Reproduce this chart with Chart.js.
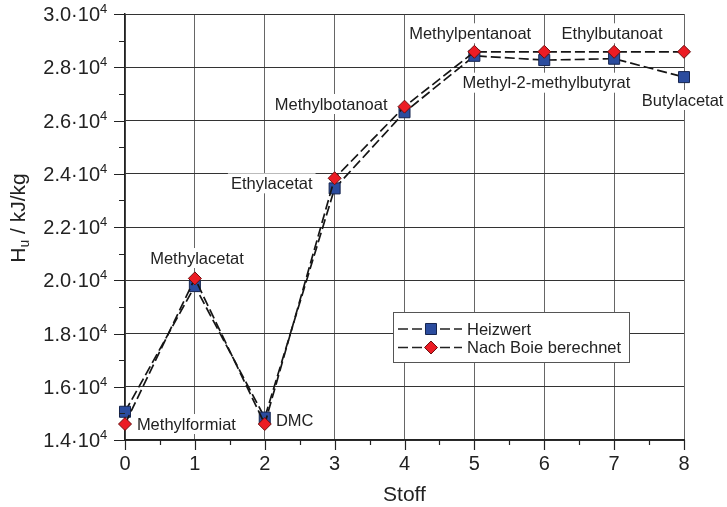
<!DOCTYPE html>
<html>
<head>
<meta charset="utf-8">
<script src="https://cdn.jsdelivr.net/npm/chart.js@4/dist/chart.umd.min.js"></script>
<style>
  html, body { margin: 0; padding: 0; background: #fff; }
  #wrap { width: 727px; height: 507px; position: relative; }
</style>
</head>
<body>
<div id="wrap"><canvas id="c"></canvas></div>
<script>
// --- data ---
const stoffIdx   = [0, 1, 2, 3, 4, 5, 6, 7, 8];
const heizwert   = [15060, 19780, 14840, 23450, 26310, 28430, 28270, 28320, 27630];
const boie       = [14600, 20070, 14600, 23830, 26520, 28580, 28580, 28580, 28580];
const seriesNames = ['Heizwert', 'Nach Boie berechnet'];
const yTickVals  = [14000, 16000, 18000, 20000, 22000, 24000, 26000, 28000, 30000];

// substance labels: [text, x, y, align]
const stoffLabels = [
  ['Methylformiat', 0.17, 14600, 'left'],
  ['Methylacetat', 1.03, 20835, 'center'],
  ['DMC', 2.16, 14725, 'left'],
  ['Ethylacetat', 2.10, 23640, 'center'],
  ['Methylbotanoat', 2.95, 26620, 'center'],
  ['Methylpentanoat', 4.94, 29275, 'center'],
  ['Ethylbutanoat', 6.97, 29275, 'center'],
  ['Methyl-2-methylbutyrat', 6.03, 27420, 'center'],
  ['Butylacetat', 7.98, 26770, 'center'],
];

const FONT = "'Liberation Sans', Arial, sans-serif";
const DASH = [10, 4];
const BLUE = '#2b4c9e', BLUE_EDGE = '#16254f';
const RED = '#ec1c24', RED_EDGE = '#6a0f0f';

const mkPts = (ys) => stoffIdx.map((x, i) => ({ x, y: ys[i] }));

// minor ticks, y tick labels with exponent, axis titles, legend
const axisDeco = {
  id: 'axisDeco',
  afterDraw(chart) {
    const { ctx, chartArea: a, scales: { x, y } } = chart;
    ctx.save();
    ctx.strokeStyle = '#222';
    ctx.lineWidth = 1.2;
    ctx.beginPath();
    for (let v = 14000; v <= 30000; v += 1000) {
      const py = Math.round(y.getPixelForValue(v)) + 0.5;
      const len = v % 2000 === 0 ? 11 : 6;
      ctx.moveTo(a.left - len, py); ctx.lineTo(a.left, py);
    }
    for (let v = 0; v <= 8; v += 0.5) {
      const px = Math.round(x.getPixelForValue(v)) + 0.5;
      const len = v % 1 === 0 ? 10 : 5;
      ctx.moveTo(px, a.bottom); ctx.lineTo(px, a.bottom + len);
    }
    ctx.stroke();

    // y tick labels: "3.0·10" + superscript 4
    ctx.fillStyle = '#222';
    ctx.textBaseline = 'alphabetic';
    yTickVals.forEach(v => {
      const py = y.getPixelForValue(v);
      ctx.font = '13px ' + FONT;
      ctx.textAlign = 'left';
      ctx.fillText('4', 100, py - 1);
      ctx.font = '20px ' + FONT;
      ctx.textAlign = 'right';
      ctx.fillText((v / 1e4).toFixed(1) + '·10', 100, py + 7);
    });

    // x title
    ctx.font = '21px ' + FONT;
    ctx.textAlign = 'center';
    ctx.textBaseline = 'middle';
    ctx.fillText('Stoff', x.getPixelForValue(4), 495);

    // y title with subscript
    ctx.translate(17, 218);
    ctx.rotate(-Math.PI / 2);
    ctx.textAlign = 'left';
    ctx.textBaseline = 'alphabetic';
    const h = 'H', sub = 'u', rest = ' / kJ/kg';
    ctx.font = '21px ' + FONT;
    const wH = ctx.measureText(h).width;
    ctx.font = '14px ' + FONT;
    const wS = ctx.measureText(sub).width;
    ctx.font = '21px ' + FONT;
    const wR = ctx.measureText(rest).width;
    let sx = -(wH + wS + wR) / 2;
    ctx.fillText(h, sx, 8); sx += wH;
    ctx.font = '14px ' + FONT;
    ctx.fillText(sub, sx, 12); sx += wS;
    ctx.font = '21px ' + FONT;
    ctx.fillText(rest, sx, 8);
    ctx.restore();

    // legend box
    ctx.save();
    const bx = 393, by = 312, bw = 236, bh = 50;
    ctx.fillStyle = '#fff';
    ctx.fillRect(bx, by, bw, bh);
    ctx.strokeStyle = '#555';
    ctx.lineWidth = 1;
    ctx.strokeRect(bx + 0.5, by + 0.5, bw, bh);
    chart.data.datasets.forEach((ds, i) => {
      const ry = by + 17 + i * 18.5;
      ctx.strokeStyle = '#222';
      ctx.lineWidth = 1.6;
      ctx.setLineDash(DASH);
      ctx.beginPath(); ctx.moveTo(398, ry); ctx.lineTo(462, ry); ctx.stroke();
      ctx.setLineDash([]);
      ctx.fillStyle = ds.pointBackgroundColor;
      ctx.strokeStyle = ds.pointBorderColor;
      ctx.lineWidth = 1;
      Chart.helpers.drawPoint(ctx, { pointStyle: ds.pointStyle, radius: ds.pointRadius, borderWidth: 1 }, 431, ry);
      ctx.fillStyle = '#222';
      ctx.font = '16.5px ' + FONT;
      ctx.textAlign = 'left';
      ctx.textBaseline = 'middle';
      ctx.fillText(ds.label, 467, ry + 1);
    });
    ctx.restore();
  }
};

// substance names on white backgrounds, under the lines
const stoffText = {
  id: 'stoffText',
  beforeDatasetsDraw(chart) {
    const { ctx, scales: { x, y } } = chart;
    ctx.save();
    ctx.font = '16.5px ' + FONT;
    ctx.textBaseline = 'middle';
    stoffLabels.forEach(([t, vx, vy, al]) => {
      const px = x.getPixelForValue(vx), py = y.getPixelForValue(vy);
      const w = ctx.measureText(t).width;
      const left = al === 'left' ? px : px - w / 2;
      ctx.fillStyle = '#fff';
      ctx.fillRect(left - 3, py - 10, w + 6, 20);
      ctx.fillStyle = '#222';
      ctx.textAlign = 'left';
      ctx.fillText(t, left, py + 1);
    });
    ctx.restore();
  }
};

new Chart(document.getElementById('c'), {
  type: 'line',
  data: {
    datasets: [
      {
        label: seriesNames[0], data: mkPts(heizwert), order: 1,
        borderColor: '#151515', borderWidth: 1.7, borderDash: DASH,
        pointStyle: 'rect', pointRadius: 7.8,
        pointBackgroundColor: BLUE, pointBorderColor: BLUE_EDGE, pointBorderWidth: 1,
        tension: 0, fill: false,
      },
      {
        label: seriesNames[1], data: mkPts(boie), order: 0,
        borderColor: '#151515', borderWidth: 1.7, borderDash: DASH,
        pointStyle: 'rectRot', pointRadius: 6.5,
        pointBackgroundColor: RED, pointBorderColor: RED_EDGE, pointBorderWidth: 1,
        tension: 0, fill: false,
      },
    ]
  },
  options: {
    responsive: true,
    maintainAspectRatio: false,
    animation: false,
    clip: false,
    layout: { padding: { top: 14, right: 43, left: 0, bottom: 0 } },
    plugins: { legend: { display: false }, tooltip: { enabled: false } },
    scales: {
      x: {
        type: 'linear', min: 0, max: 8,
        ticks: { stepSize: 1, color: '#222', font: { family: FONT, size: 20 }, padding: 12, maxRotation: 0 },
        grid: { color: '#666', lineWidth: 1, drawTicks: false },
        border: { color: '#222', width: 1.5 },
        afterFit: s => { s.height = 67; },
      },
      y: {
        min: 14000, max: 30000,
        ticks: { stepSize: 2000, display: false },
        grid: { color: '#333', lineWidth: 1, drawTicks: false },
        border: { color: '#222', width: 1.5 },
        afterFit: s => { s.width = 125; },
      }
    }
  },
  plugins: [stoffText, axisDeco]
});
</script>
</body>
</html>
